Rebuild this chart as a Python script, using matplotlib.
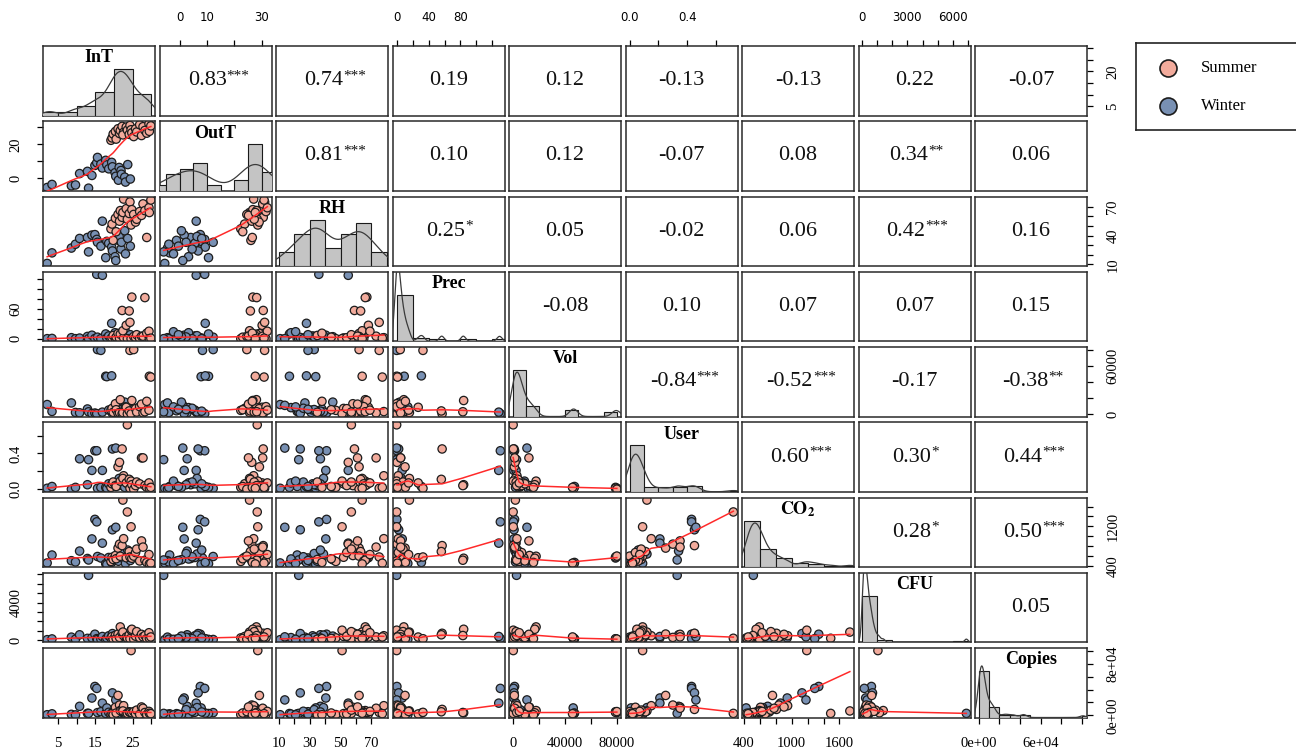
import numpy as np
import matplotlib
matplotlib.use("Agg")
import matplotlib.pyplot as plt

plt.rcParams['font.family'] = ['Liberation Serif', 'DejaVu Serif']
plt.rcParams['mathtext.fontset'] = 'stix'

# one entry per sampling event: 28 winter samples, then 28 summer samples
season = ["Winter"] * 28 + ["Summer"] * 28

in_t = [2.1, 3.4, 8.6, 9.7, 10.8, 12.9, 13.2, 14.1, 14.9, 15.4, 15.6, 16.5, 16.9, 17.8,
        18.1, 18.6, 19.4, 19.6, 20.3, 20.5, 21.2, 21.4, 21.9, 22.0, 22.9, 23.1, 23.7, 24.4,
        19.2, 19.5, 19.8, 20.4, 20.6, 21.1, 21.5, 21.7, 22.2, 22.6, 22.4, 23.3, 23.6, 24.1,
        24.3, 24.6, 24.8, 25.3, 25.8, 26.1, 26.9, 27.4, 27.8, 28.3, 28.8, 29.4, 29.5, 29.9]
out_t = [-5.4, -3.6, -4.4, -3.9, 2.8, 4.1, -5.8, 1.7, 7.6, 9.2, 12.3, 8.4, 6.1, 10.6,
         7.9, 5.6, 9.4, 6.8, 3.3, 1.2, -1.1, 6.4, 4.6, 2.4, 0.7, -2.2, 8.1, -0.4,
         22.4, 23.8, 26.1, 27.6, 23.1, 29.2, 26.4, 28.1, 30.6, 27.1, 25.6, 30.2, 28.4, 25.9,
         31.1, 28.6, 26.8, 24.6, 29.1, 27.3, 31.6, 25.2, 30.4, 28.2, 26.6, 32.1, 27.7, 30.9]
rh = [11, 22, 27, 31, 37, 38, 23, 40.5, 41, 36, 33, 29, 55, 17,
      34, 32, 28, 24, 18, 14, 35, 39, 26, 33, 45, 21, 37, 29,
      47, 52, 35, 58, 44, 62, 55, 66, 59, 78, 64, 68, 57, 63,
      75, 51, 67, 62, 54, 57, 65, 61, 73, 66, 38, 69, 64, 77]
prec = [0, 0.5, 2.0, 0, 1.2, 4.5, 0, 7.0, 0.3, 130, 3.0, 0, 128, 9.5,
        1.5, 5.5, 31, 2.5, 12.0, 0, 0.8, 6.0, 0, 3.5, 4.0, 14.0, 0, 8.0,
        0, 1.5, 6.5, 0, 3.0, 10.5, 0.5, 9.0, 57, 2.0, 16.0, 27, 0, 56,
        33, 0, 84, 4.5, 2.0, 8.0, 0, 5.0, 5.0, 83, 11.0, 15.0, 0, 1.0]
vol = [12000, 3500, 14000, 2200, 1800, 6500, 3000, 900, 1500, 700, 80000, 79000, 2600, 47000,
       46500, 5200, 47500, 1100, 8200, 11000, 4300, 2900, 7400, 5800, 15000, 9100, 3800, 6100,
       4800, 7200, 2400, 13000, 5600, 1300, 1900, 18000, 600, 3300, 2100, 8600, 400, 4100,
       79000, 500, 17000, 80000, 6900, 2700, 9400, 12500, 1600, 3100, 16000, 5100, 47000, 46000]
user = [0.01, 0.03, 0.00, 0.02, 0.34, 0.05, 0.33, 0.21, 0.43, 0.43, 0.01, 0.02, 0.21, 0.02,
        0.01, 0.06, 0.03, 0.45, 0.07, 0.46, 0.04, 0.12, 0.08, 0.05, 0.02, 0.09, 0.06, 0.03,
        0.02, 0.06, 0.08, 0.04, 0.03, 0.25, 0.30, 0.09, 0.45, 0.15, 0.12, 0.07, 0.72, 0.11,
        0.01, 0.09, 0.05, 0.00, 0.04, 0.08, 0.06, 0.35, 0.35, 0.04, 0.02, 0.07, 0.01, 0.02]
co2 = [460, 620, 505, 480, 700, 550, 520, 945, 1340, 1290, 590, 560, 860, 445,
       430, 570, 470, 1130, 540, 1180, 495, 640, 585, 650, 525, 450, 720, 510,
       490, 575, 530, 610, 545, 760, 840, 595, 810, 950, 1730, 565, 1490, 690,
       580, 1190, 555, 598, 670, 740, 500, 905, 780, 515, 470, 630, 440, 455]
cfu = [40, 120, 310, 90, 560, 180, 6900, 240, 620, 150, 60, 110, 380, 70,
       210, 450, 130, 690, 260, 340, 85, 520, 150, 290, 420, 75, 230, 160,
       230, 380, 90, 510, 170, 640, 280, 1400, 720, 460, 850, 320, 190, 560,
       140, 1050, 1150, 100, 410, 900, 260, 610, 340, 480, 150, 780, 200, 330]
copies = [900, 2300, 1500, 600, 14000, 3100, 3000, 27000, 45000, 42000, 4200, 5600, 19000, 2800,
          11500, 4700, 3400, 35000, 1900, 24000, 2600, 12000, 6300, 8800, 1200, 700, 5200, 1600,
          1100, 2700, 800, 12500, 3600, 31000, 16000, 7400, 9200, 15000, 6800, 2100, 3000, 5500,
          4600, 101000, 3900, 5800, 2400, 8100, 1400, 13000, 11000, 4400, 900, 6100, 3200, 2500]

names = ["InT", "OutT", "RH", "Prec", "Vol", "User", "CO2", "CFU", "Copies"]
labels = ["InT", "OutT", "RH", "Prec", "Vol", "User", r"$\mathbf{CO_2}$", "CFU", "Copies"]

# Pearson r for the upper triangle, row by row, with significance stars
corr_r = [
    [0.83, 0.74, 0.19, 0.12, -0.13, -0.13, 0.22, -0.07],
    [0.81, 0.10, 0.12, -0.07, 0.08, 0.34, 0.06],
    [0.25, 0.05, -0.02, 0.06, 0.42, 0.16],
    [-0.08, 0.10, 0.07, 0.07, 0.15],
    [-0.84, -0.52, -0.17, -0.38],
    [0.60, 0.30, 0.44],
    [0.28, 0.50],
    [0.05],
]
corr_stars = [
    ["***", "***", "", "", "", "", "", ""],
    ["***", "", "", "", "", "**", ""],
    ["*", "", "", "", "***", ""],
    ["", "", "", "", ""],
    ["***", "***", "", "**"],
    ["***", "*", "***"],
    ["*", "***"],
    [""],
]

tick_pos = {
    "InT": [5, 10, 15, 20, 25, 30],
    "OutT": [0, 10, 20, 30],
    "RH": [10, 20, 30, 40, 50, 60, 70],
    "Prec": [0, 20, 40, 60, 80, 100, 120],
    "Vol": [0, 20000, 40000, 60000, 80000],
    "User": [0.0, 0.2, 0.4, 0.6],
    "CO2": [400, 600, 800, 1000, 1200, 1400, 1600],
    "CFU": [0, 1000, 2000, 3000, 4000, 5000, 6000, 7000],
    "Copies": [0, 20000, 40000, 60000, 80000, 100000],
}
xtick_lab = {
    "InT": ["5", "", "15", "", "25", ""],
    "OutT": ["0", "10", "", "30"],
    "RH": ["10", "", "30", "", "50", "", "70"],
    "Prec": ["0", "", "40", "", "80", "", ""],
    "Vol": ["0", "", "40000", "", "80000"],
    "User": ["0.0", "", "0.4", ""],
    "CO2": ["400", "", "", "1000", "", "", "1600"],
    "CFU": ["0", "", "", "3000", "", "", "6000", ""],
    "Copies": ["0e+00", "", "", "6e+04", "", ""],
}
ytick_lab = {
    "InT": ["5", "", "", "20", "", ""],
    "OutT": ["0", "", "20", ""],
    "RH": ["10", "", "", "40", "", "", "70"],
    "Prec": ["0", "", "", "60", "", "", ""],
    "Vol": ["0", "", "", "60000", ""],
    "User": ["0.0", "", "0.4", ""],
    "CO2": ["400", "", "", "", "1200", "", ""],
    "CFU": ["0", "", "", "", "4000", "", "", ""],
    "Copies": ["0e+00", "", "", "", "8e+04", ""],
}

hist_bins = {
    "InT": np.arange(0, 31, 5),
    "OutT": np.arange(-10, 36, 5),
    "RH": np.arange(10, 81, 10),
    "Prec": np.arange(0, 141, 20),
    "Vol": np.arange(0, 80001, 10000),
    "User": np.arange(0, 0.81, 0.1),
    "CO2": np.arange(400, 1801, 200),
    "CFU": np.arange(0, 7001, 1000),
    "Copies": np.arange(0, 110001, 10000),
}

data = [np.array(v, float) for v in (in_t, out_t, rh, prec, vol, user, co2, cfu, copies)]
season_col = {"Summer": "#f2ab9c", "Winter": "#7890b3"}
point_cols = [season_col[s] for s in season]


def lowess(x, y, f=2 / 3, iters=3):
    x = np.asarray(x, float)
    y = np.asarray(y, float)
    o = np.argsort(x, kind="mergesort")
    x, y = x[o], y[o]
    n = len(x)
    k = max(min(int(round(f * n)), n), 2)
    rw = np.ones(n)
    fit = np.empty(n)
    for it in range(iters + 1):
        for i in range(n):
            d = np.abs(x - x[i])
            h = np.sort(d)[k - 1]
            if h <= 0:
                h = d.max() if d.max() > 0 else 1.0
            w = (1 - np.clip(d / h, 0, 1) ** 3) ** 3 * rw
            sw = w.sum()
            if sw <= 0:
                fit[i] = y[i]
                continue
            xm = np.dot(w, x) / sw
            ym = np.dot(w, y) / sw
            sxx = np.dot(w, (x - xm) ** 2)
            if sxx > 1e-10 * (x[-1] - x[0]) ** 2:
                b = np.dot(w, (x - xm) * (y - ym)) / sxx
                fit[i] = ym + b * (x[i] - xm)
            else:
                fit[i] = ym
        if it == iters:
            break
        res = y - fit
        m = np.median(np.abs(res))
        if m <= 0:
            break
        u = res / (6 * m)
        rw = np.where(np.abs(u) < 1, (1 - u ** 2) ** 2, 0.0)
    return x, fit


def kde(v):
    n = len(v)
    sd = v.std(ddof=1)
    q75, q25 = np.percentile(v, [75, 25])
    lo = min(sd, (q75 - q25) / 1.34)
    if lo <= 0:
        lo = sd
    bw = 0.9 * lo * n ** -0.2
    g = np.linspace(v.min() - 3 * bw, v.max() + 3 * bw, 512)
    dens = np.exp(-0.5 * ((g[:, None] - v[None, :]) / bw) ** 2).sum(1) / (n * bw * np.sqrt(2 * np.pi))
    return g, dens


lims = []
for v in data:
    span = v.max() - v.min()
    lims.append((v.min() - 0.04 * span, v.max() + 0.04 * span))

W, H = 1296, 752
left0, top0 = 43, 46
pw, ph = 112, 69.5
dx, dy = 116.5, 75.25


def rect(i, j):
    return [(left0 + j * dx) / W, 1 - (top0 + i * dy + ph) / H, pw / W, ph / H]


def frame(ax):
    for s in ax.spines.values():
        s.set_linewidth(1.1)
        s.set_color("#2a2a2a")
    ax.tick_params(which="both", bottom=False, top=False, left=False, right=False,
                   labelbottom=False, labeltop=False, labelleft=False, labelright=False)


def put_ticks(ax, side, var):
    if side in ("top", "bottom"):
        ax.set_xticks(tick_pos[var])
        if side == "top":
            ax.set_xticklabels(xtick_lab[var], fontfamily="DejaVu Sans", fontsize=8.5)
            ax.tick_params(axis="x", top=True, labeltop=True, direction="out",
                           length=4.5, width=0.9, pad=11)
        else:
            ax.set_xticklabels(xtick_lab[var], fontsize=10.5)
            ax.tick_params(axis="x", bottom=True, labelbottom=True, direction="out",
                           length=4.5, width=0.9, pad=9.5)
    else:
        ax.set_yticks(tick_pos[var])
        ax.set_yticklabels(ytick_lab[var], fontsize=10.5, rotation=90, va="center")
        if side == "left":
            ax.tick_params(axis="y", left=True, labelleft=True, direction="out",
                           length=4.5, width=0.9, pad=10)
        else:
            ax.tick_params(axis="y", right=True, labelright=True, direction="out",
                           length=4.5, width=0.9, pad=9.5)


fig = plt.figure(figsize=(W / 100, H / 100), dpi=100)

for i in range(9):
    for j in range(9):
        ax = fig.add_axes(rect(i, j))
        frame(ax)

        if i > j:
            ax.scatter(data[j], data[i], s=36, c=point_cols, edgecolors="#1c1c1c",
                       linewidths=0.9, zorder=2)
            sx, sy = lowess(data[j], data[i])
            ax.plot(sx, sy, color="#ff2a2a", lw=1.1, zorder=3)
        elif i < j:
            r = corr_r[i][j - i - 1]
            stars = corr_stars[i][j - i - 1]
            t = ax.text(0.5 - 0.025 * len(stars), 0.5, f"{r:.2f}", transform=ax.transAxes,
                        ha="center", va="center", fontsize=16, color="#111111")
            if stars:
                ax.annotate(stars, xy=(1.0, 1.1), xycoords=t, ha="left", va="top",
                            fontsize=11, color="#111111")

        if i == 0 and j % 2 == 1:
            put_ticks(ax, "top", names[j])
        if i == 8 and j % 2 == 0:
            put_ticks(ax, "bottom", names[j])
        if j == 0 and i % 2 == 1:
            put_ticks(ax, "left", names[i])
        if j == 8 and i % 2 == 0:
            put_ticks(ax, "right", names[i])
        ax.set_xlim(lims[j])
        ax.set_ylim(lims[i])

        if i == j:
            # histogram + kernel density on its own scale, over the variable's range
            v = data[i]
            hx = fig.add_axes(rect(i, j), frameon=False)
            hx.set_xticks([])
            hx.set_yticks([])
            cnt, edges = np.histogram(v, hist_bins[names[i]])
            heights = cnt / (len(v) * np.diff(edges))
            hx.bar(edges[:-1], heights, width=np.diff(edges), align="edge",
                   color="#c4c4c4", edgecolor="#1a1a1a", linewidth=0.8)
            g, dens = kde(v)
            hx.plot(g, dens, color="#3a3a3a", lw=0.9)
            hx.set_xlim(lims[i])
            hx.set_ylim(0, 1.5 * heights.max())
            hx.text(0.5, 0.83, labels[i], transform=hx.transAxes, ha="center",
                    va="center", fontsize=13, fontweight="bold", zorder=5)

# season legend
lg = fig.add_axes([1136 / W, 1 - 130 / H, 166 / W, 87 / H])
lg.set_xlim(0, 1)
lg.set_ylim(0, 1)
lg.set_xticks([])
lg.set_yticks([])
for s in lg.spines.values():
    s.set_linewidth(1.2)
    s.set_color("#222222")
for yy, name in ((0.71, "Summer"), (0.28, "Winter")):
    lg.scatter([0.195], [yy], s=150, c=season_col[name], edgecolors="#1c1c1c",
               linewidths=1.2)
    lg.text(0.39, yy, name, ha="left", va="center", fontsize=12)

fig.savefig("out.png", dpi=100)
